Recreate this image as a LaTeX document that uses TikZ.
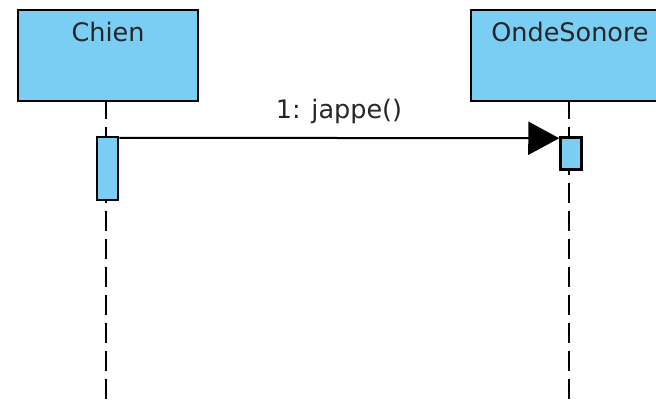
\documentclass[tikz,border=0pt]{standalone}
\usepackage{fontspec}
\setmainfont{DejaVu Sans}
\usetikzlibrary{arrows.meta}
\definecolor{umlblue}{HTML}{7ACEF4}
\tikzset{
  objbox/.style={draw=black, line width=2.5pt, fill=umlblue, minimum height=91pt, inner sep=0pt},
  actbox/.style={draw=black, line width=2.5pt, fill=umlblue, minimum width=21pt, inner sep=0pt},
  lifeline/.style={line width=2.5pt, dash pattern=on 20pt off 8pt},
  lbl/.style={font=\fontsize{25.5}{30}\selectfont, text=black!85, inner sep=0pt, anchor=base},
  msg/.style={line width=2pt, -{Triangle[length=31pt,width=33pt]}}
}
\begin{document}
\begin{tikzpicture}[x=1pt,y=-1pt]
\useasboundingbox (0,0) rectangle (656,399);
\coordinate (l1end) at (106,399);
\coordinate (l2end) at (569,399);
% object boxes
\node[objbox, minimum width=180pt] (chien) at (108,55.5) {};
\node[objbox, minimum width=198pt] (onde) at (570,55.5) {};
% lifelines
\draw[lifeline, dash phase=3pt] (chien.south -| l1end) -- (l1end);
\draw[lifeline, dash phase=3pt] (onde.south -| l2end) -- (l2end);
% labels
\node[lbl] (chienlbl) at (108,41) {Chien};
\node[lbl] (ondelbl) at (570,41) {OndeSonore};
% activations
\node[actbox, minimum height=63pt] (act1) at (107.5,168.5) {};
\node[actbox, minimum height=32pt] (act2) at (571,153.5) {};
% message
\draw[msg] ([yshift=-2pt]act1.north east) -- ([yshift=-2pt]act2.north west);
\node[lbl] (msglbl) at (339,118) {1: jappe()};
\end{tikzpicture}
\end{document}
